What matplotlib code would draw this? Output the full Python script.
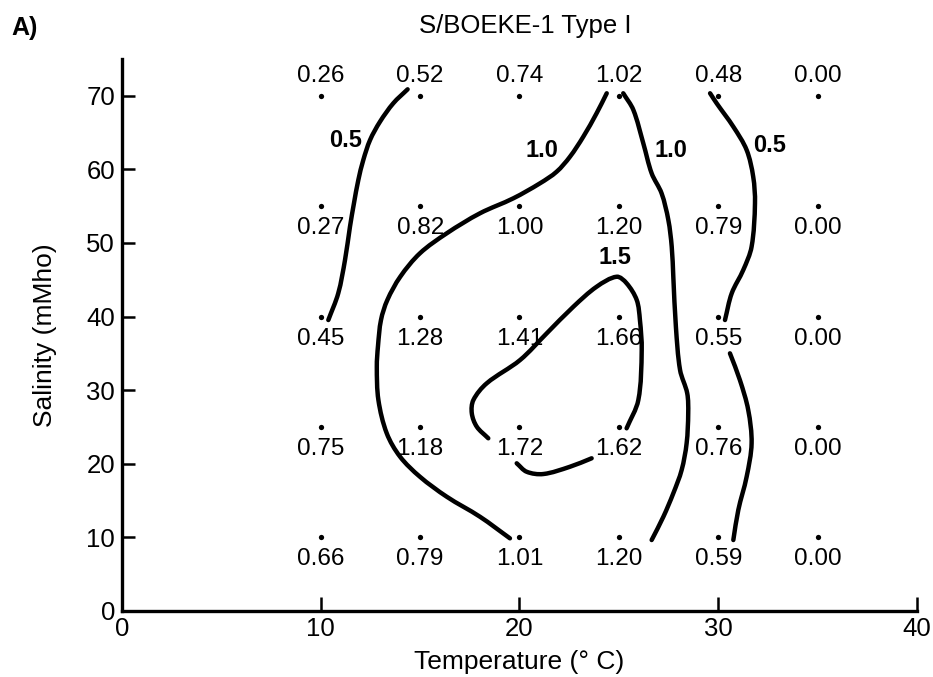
import matplotlib
matplotlib.use("Agg")
import matplotlib.pyplot as plt
from matplotlib.path import Path
from matplotlib.patches import PathPatch
import numpy as np

plt.rcParams["font.family"] = ["Liberation Sans", "DejaVu Sans"]

# Sampling grid
temperature = [10, 15, 20, 25, 30, 35]
salinity = [70, 55, 40, 25, 10]
# Measured values, rows follow `salinity`, columns follow `temperature`
values = [
    [0.26, 0.52, 0.74, 1.02, 0.48, 0.00],
    [0.27, 0.82, 1.00, 1.20, 0.79, 0.00],
    [0.45, 1.28, 1.41, 1.66, 0.55, 0.00],
    [0.75, 1.18, 1.72, 1.62, 0.76, 0.00],
    [0.66, 0.79, 1.01, 1.20, 0.59, 0.00],
]

# Hand-traced isolines (temperature, salinity)
iso_05_left_t = [14.37, 13.65, 12.98, 12.48, 12.14, 11.89, 11.67, 11.47, 11.22, 10.88, 10.38]
iso_05_left_s = [70.91, 69.01, 66.50, 64.01, 61.29, 58.57, 55.40, 52.22, 47.69, 43.16, 39.52]

iso_05_right_a_t = [29.59, 29.92, 30.76, 31.43, 31.76, 31.85, 31.68, 31.26, 30.68, 30.34]
iso_05_right_a_s = [70.37, 69.01, 65.82, 62.65, 59.02, 55.4, 49.5, 46.33, 43.16, 39.52]
iso_05_right_b_t = [30.59, 31.09, 31.51, 31.68, 31.43, 31.01, 30.76]
iso_05_right_b_s = [34.99, 31.36, 27.28, 22.75, 18.2, 13.67, 9.59]

iso_10_left_t = [24.39, 23.88, 23.21, 22.54, 21.87, 21.03, 19.69, 18.01, 16.34, 14.99,
                 14.00, 13.35, 13.03, 12.88, 12.82, 12.90, 13.32, 13.99, 14.99, 16.34,
                 18.01, 19.52]
iso_10_left_s = [70.37, 67.65, 64.46, 61.74, 59.70, 58.12, 56.08, 54.04, 51.32, 48.60,
                 45.41, 42.24, 39.52, 36.00, 33.17, 28.64, 24.11, 20.93, 18.20, 15.48,
                 12.76, 9.82]

iso_10_right_t = [25.22, 25.73, 26.23, 26.65, 27.15, 27.49, 27.66, 27.74, 27.87, 28.08,
                  28.44, 28.49, 28.41, 28.16, 27.74, 27.24, 26.65]
iso_10_right_s = [70.37, 68.10, 63.56, 59.48, 56.76, 53.13, 49.50, 45.41, 38.61, 32.72,
                  29.55, 26.83, 22.75, 19.12, 15.95, 12.76, 9.59]

iso_15_a_t = [25.39, 25.98, 26.15, 26.06, 25.9, 25.39, 24.89, 23.88, 22.71, 21.37,
              20.03, 18.35, 17.68, 17.6, 17.85, 18.43]
iso_15_a_s = [24.79, 28.64, 35.44, 39.52, 42.24, 44.52, 45.41, 44.05, 41.33, 37.71,
              34.08, 30.91, 28.64, 26.83, 25.01, 23.43]
iso_15_b_t = [19.86, 20.36, 21.2, 22.54, 23.63]
iso_15_b_s = [20.03, 18.88, 18.57, 19.56, 20.71]

# Isoline labels: (text, temperature, salinity)
iso_labels = [
    ("0.5", 11.26, 64.0),
    ("1.0", 21.13, 62.65),
    ("1.0", 27.62, 62.65),
    ("0.5", 32.6, 63.3),
    ("1.5", 24.8, 47.96),
]

FIG_W, FIG_H, DPI = 9.33, 6.77, 100
AX_RECT = [0.1308, 0.0982, 0.852, 0.8143]
XLIM, YLIM = (0, 40), (0, 75)


def smooth_path(xs, ys):
    """Chord-length Catmull-Rom curve through the traced points (cubic Bezier)."""
    sx = AX_RECT[2] * FIG_W * DPI / (XLIM[1] - XLIM[0])
    sy = AX_RECT[3] * FIG_H * DPI / (YLIM[1] - YLIM[0])
    p = np.column_stack([xs, ys]).astype(float)
    q = p * [sx, sy]
    d = np.hypot(*np.diff(q, axis=0).T)
    t = np.concatenate([[0.0], np.cumsum(d)])
    n = len(p)
    m = np.zeros_like(p)
    for i in range(n):
        a, b = max(i - 1, 0), min(i + 1, n - 1)
        m[i] = (p[b] - p[a]) / (t[b] - t[a])
    verts = [p[0]]
    codes = [Path.MOVETO]
    for i in range(n - 1):
        h = t[i + 1] - t[i]
        verts += [p[i] + m[i] * h / 3.0, p[i + 1] - m[i + 1] * h / 3.0, p[i + 1]]
        codes += [Path.CURVE4] * 3
    return Path(verts, codes)


fig = plt.figure(figsize=(FIG_W, FIG_H), dpi=DPI)
ax = fig.add_axes(AX_RECT)

for t, s in [
    (iso_05_left_t, iso_05_left_s),
    (iso_05_right_a_t, iso_05_right_a_s),
    (iso_05_right_b_t, iso_05_right_b_s),
    (iso_10_left_t, iso_10_left_s),
    (iso_10_right_t, iso_10_right_s),
    (iso_15_a_t, iso_15_a_s),
    (iso_15_b_t, iso_15_b_s),
]:
    ax.add_patch(PathPatch(smooth_path(t, s), facecolor="none", edgecolor="black",
                           lw=3.2, capstyle="round", joinstyle="round"))

tt, ss = np.meshgrid(temperature, salinity)
ax.plot(tt.ravel(), ss.ravel(), "o", color="black", ms=3.8, mec="none")

for i, s in enumerate(salinity):
    for j, t in enumerate(temperature):
        dy = 2.7 if s == 70 else -3.0
        ax.text(t, s + dy, f"{values[i][j]:.2f}", ha="center", va="center",
                fontsize=17.5)

for txt, t, s in iso_labels:
    ax.text(t, s, txt, ha="center", va="center", fontsize=17, fontweight="bold")

ax.set_xlim(*XLIM)
ax.set_ylim(*YLIM)
ax.set_xticks([0, 10, 20, 30, 40])
ax.set_yticks([0, 10, 20, 30, 40, 50, 60, 70])
ax.tick_params(axis="x", direction="in", length=10, width=1.8, labelsize=18.5, pad=5)
ax.tick_params(axis="y", direction="in", length=9, width=1.8, labelsize=18.5, pad=5)
for side in ("top", "right"):
    ax.spines[side].set_visible(False)
for side in ("left", "bottom"):
    ax.spines[side].set_linewidth(2.4)

ax.set_xlabel("Temperature (° C)", fontsize=19, labelpad=6)
ax.set_ylabel("Salinity (mMho)", fontsize=19, labelpad=21)
fig.text(0.563, 0.961, "S/BOEKE-1 Type I", ha="center", va="center", fontsize=18.5)
fig.text(0.012, 0.958, "A)", ha="left", va="center", fontsize=18, fontweight="bold")

fig.savefig("out.png", dpi=DPI)
